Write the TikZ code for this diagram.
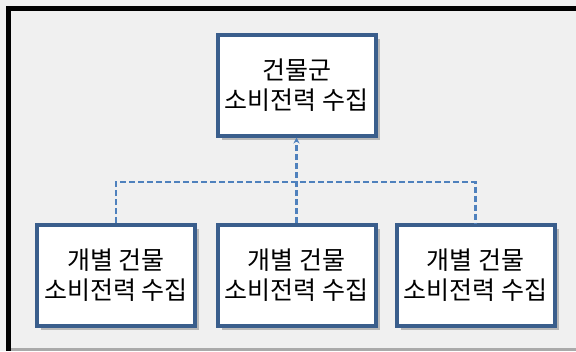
\documentclass[tikz,border=0pt]{standalone}
\usepackage{fontspec}
\newfontfamily\kr{Noto Sans CJK KR}
\usetikzlibrary{arrows.meta,shadows}
\definecolor{bg}{RGB}{240,240,240}
\definecolor{boxblue}{RGB}{58,94,140}
\definecolor{linkblue}{RGB}{79,129,189}
\definecolor{shadowgray}{RGB}{170,170,170}
\tikzset{
  box/.style={draw=boxblue, line width=4pt, fill=white, minimum width=158pt, minimum height=101pt,
    inner sep=0pt, align=center, font=\kr\fontsize{25}{30}\selectfont,
    drop shadow={shadow xshift=4pt, shadow yshift=-4pt, fill=shadowgray, opacity=0.8}},
  link/.style={draw=linkblue, line width=2.5pt, dash pattern=on 6pt off 3pt}
}
\begin{document}
\begin{tikzpicture}[x=1pt,y=-1pt]
\useasboundingbox (0,0) rectangle (576,351);
\fill[bg] (0,0) rectangle (576,351);
\fill[black] (6,6) rectangle (576,11);
\fill[black] (6,6) rectangle (11,351);
\fill[shadowgray] (11,348) rectangle (576,351);
\node[box] (top) at (296.5,85) {건물군\\소비전력 수집};
\node[box] (b1) at (116,275.5) {개별 건물\\소비전력 수집};
\node[box] (b2) at (296.5,275.5) {개별 건물\\소비전력 수집};
\node[box] (b3) at (475.5,275.5) {개별 건물\\소비전력 수집};
\coordinate (j) at (296.5,182);
\draw[link] (b1.north) |- (j) -| (b3.north);
\draw[link,-{Stealth[length=6pt,width=6pt]}] (b2.north) -- (top.south);
\end{tikzpicture}
\end{document}
